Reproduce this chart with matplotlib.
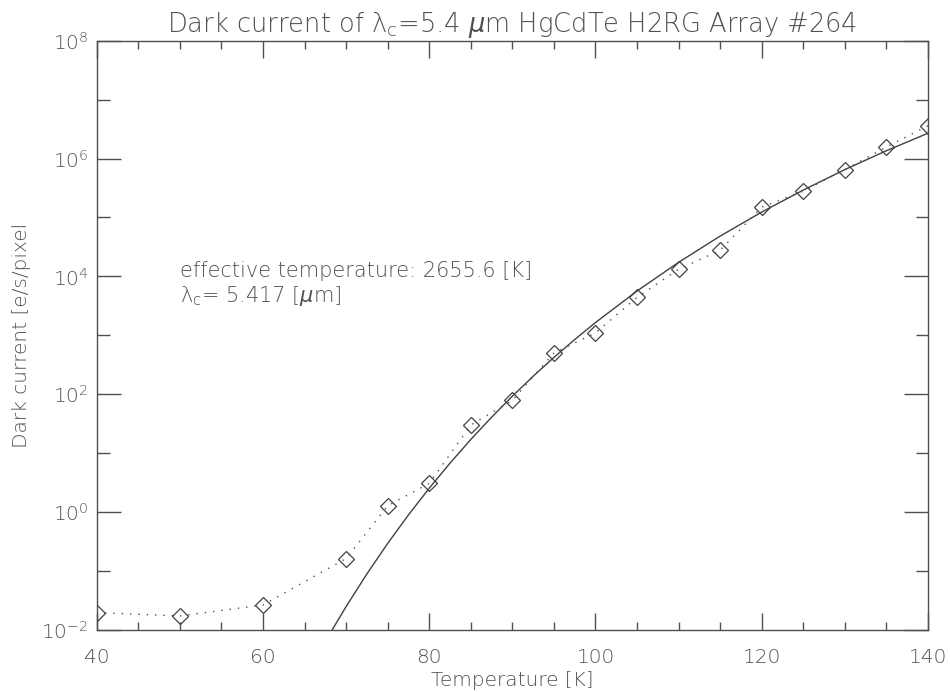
import numpy as np
import matplotlib
matplotlib.use("Agg")
import matplotlib.pyplot as plt
from matplotlib.ticker import FixedLocator, FuncFormatter

# Datos medidos (temperatura [K], corriente oscura [e/s/pixel])
temperatura = [40, 50, 60, 70, 75, 80, 85, 90, 95, 100, 105, 110, 115, 120, 125, 130, 135, 140]
corriente = [0.0197, 0.0173, 0.0266, 0.163, 1.28, 3.07, 30.0, 79.0, 500.0, 1100.0, 4400.0,
             13200.0, 27800.0, 1.50e5, 2.80e5, 6.50e5, 1.57e6, 3.60e6]

# Curva del ajuste
temp_ajuste = [68.3, 70, 72.5, 75, 77.5, 80, 82.5, 85, 87.5, 90, 92.5, 95, 97.5, 100,
               105, 110, 115, 120, 125, 130, 135, 140]
corriente_ajuste = [0.0099, 0.0249, 0.0893, 0.294, 0.895, 2.54, 6.78, 17.1, 40.7, 92.7,
                    202.0, 422.0, 848.0, 1648.0, 5650.0, 17340.0, 48300.0, 1.236e5,
                    2.92e5, 6.49e5, 1.358e6, 2.69e6]

titulo = "Dark current of λ$_\\mathregular{c}$=5.4 $\\mu$m HgCdTe H2RG Array #264"
texto1 = "effective temperature: 2655.6 [K]"
texto2 = "λ$_\\mathregular{c}$= 5.417 [$\\mu$m]"

gris = "#505050"
plt.rcParams["font.family"] = ["DejaVu Sans"]
plt.rcParams["font.weight"] = "light"
plt.rcParams["mathtext.fontset"] = "dejavusans"

fig = plt.figure(figsize=(9.5, 6.92), dpi=100)
ax = fig.add_axes([0.1018, 0.0896, 0.8750, 0.8516])

ax.plot(temp_ajuste, corriente_ajuste, color="#404040", linewidth=1.0)
ax.plot(temperatura, corriente, color="#505050", linewidth=1.0, linestyle=(0, (1, 5)),
        marker="D", markersize=8.5, markerfacecolor="none", markeredgecolor="#404040",
        markeredgewidth=0.9, zorder=3)

ax.set_yscale("log")
ax.set_xlim(40, 140)
ax.set_ylim(1e-2, 1e8)

ax.xaxis.set_major_locator(FixedLocator(np.arange(40, 141, 20)))
ax.xaxis.set_minor_locator(FixedLocator(np.arange(40, 141, 5)))
ax.yaxis.set_major_locator(FixedLocator([10.0 ** k for k in range(-2, 9, 2)]))
ax.yaxis.set_minor_locator(FixedLocator([10.0 ** k for k in range(-1, 8, 2)]))
ax.yaxis.set_major_formatter(FuncFormatter(lambda v, p: "10$^{%d}$" % round(np.log10(v))))
ax.yaxis.set_minor_formatter(FuncFormatter(lambda v, p: ""))

ax.tick_params(axis="both", which="both", direction="in", top=True, right=True,
               color=gris, labelcolor=gris, labelsize=14.5)
ax.tick_params(axis="x", which="major", length=12, width=1.0, pad=13)
ax.tick_params(axis="x", which="minor", length=6, width=1.0)
ax.tick_params(axis="y", which="major", length=17, width=1.0, pad=6)
ax.tick_params(axis="y", which="minor", length=9, width=1.0)
ax.tick_params(axis="x", which="both", labeltop=False)
ax.tick_params(axis="y", which="both", labelright=False)
for lado in ax.spines.values():
    lado.set_color(gris)
    lado.set_linewidth(1.0)

ax.set_xlabel("Temperature [K]", fontsize=14.5, color=gris, labelpad=3, fontweight="light")
ax.set_ylabel("Dark current [e/s/pixel", fontsize=14.5, color=gris, labelpad=7,
              fontweight="light")
ax.set_title(titulo, fontsize=18.5, color=gris, pad=6, fontweight="light")

ax.text(0.1, 0.599, texto1, transform=ax.transAxes, fontsize=15, color=gris,
        va="baseline", fontweight="light")
ax.text(0.1, 0.557, texto2, transform=ax.transAxes, fontsize=15, color=gris,
        va="baseline", fontweight="light")

plt.savefig("out.png", dpi=100)
